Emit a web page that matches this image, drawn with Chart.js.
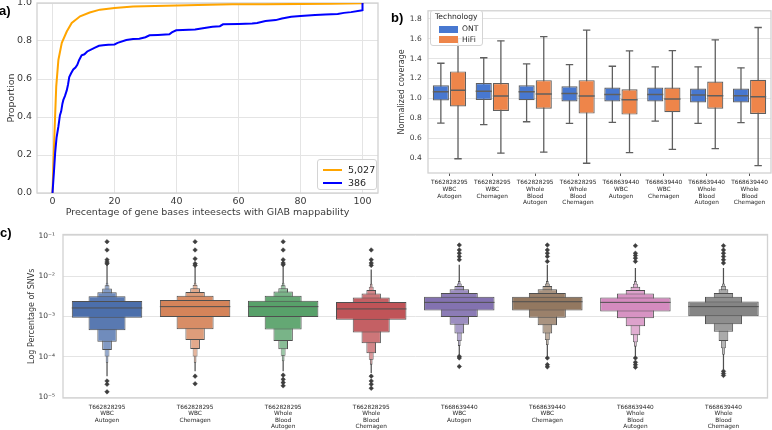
<!DOCTYPE html>
<html><head><meta charset="utf-8">
<script src="https://cdn.jsdelivr.net/npm/chart.js@4.4.1/dist/chart.umd.min.js"></script>
<style>
html,body{margin:0;padding:0;background:#fff;}
body{width:772px;height:430px;overflow:hidden;position:relative;font-family:"DejaVu Sans",sans-serif;}
.wrap{position:absolute;}
.plab{position:absolute;font-family:"Liberation Sans",sans-serif;font-weight:bold;font-size:13px;color:#000;line-height:1;}
.leg{position:absolute;background:rgba(255,255,255,0.85);border:1px solid #d4d4d4;border-radius:3px;box-sizing:border-box;color:#262626;}
.leg .row{position:absolute;left:0;right:0;}
</style></head><body>
<div class="wrap" style="left:0;top:-12px;width:382px;height:235px"><canvas id="ca"></canvas></div>
<div class="wrap" style="left:380px;top:0;width:392px;height:230px"><canvas id="cb"></canvas></div>
<div class="wrap" style="left:0;top:222px;width:772px;height:208px"><canvas id="cc"></canvas></div>
<div class="plab" style="left:-1px;top:4px">a)</div>
<div class="plab" style="left:391px;top:11px">b)</div>
<div class="plab" style="left:0px;top:226px">c)</div>
<div class="leg" id="legA" style="left:317px;top:159px;width:60px;height:31px"></div>
<div class="leg" id="legB" style="left:430px;top:10px;width:53px;height:36px"></div>
<script>
// ---------------- Panel a: cumulative proportions ----------------
const aSeriesLabels = ['5,027', '386'];
const aSeriesColors = ['#ffa500', '#0000ff'];
const cdf5027X = [0, 0.3, 0.64, 1.2, 1.9, 3.0, 4.6, 6.2, 8.9, 12, 15.3, 20, 26, 36.6, 47, 58, 68.7, 80, 90, 100, 100];
const cdf5027Y = [0, 0.16, 0.316, 0.56, 0.70, 0.79, 0.85, 0.895, 0.93, 0.95, 0.965, 0.974, 0.982, 0.986, 0.99, 0.993, 0.994, 0.995, 0.996, 0.998, 1.0];
const cdf386X = [0, 0.5, 0.85, 1.3, 1.9, 2.4, 2.8, 3.2, 3.5, 4.0, 4.6, 5.0, 5.4, 6.0, 6.7, 7.4, 8.0, 8.6, 9.4, 10.3, 11.2, 12.4, 13.7, 15, 16.3, 18, 20, 21, 23.8, 26, 28, 30, 31.3, 34, 37.7, 38.5, 39.9, 42, 46, 48, 51.6, 54, 55, 60, 64.4, 66, 68.7, 72, 74, 77, 80, 84.7, 88, 92, 94, 96.3, 99.5, 100, 100];
const cdf386Y = [0, 0.12, 0.21, 0.29, 0.35, 0.41, 0.43, 0.47, 0.49, 0.51, 0.54, 0.57, 0.61, 0.63, 0.65, 0.66, 0.675, 0.70, 0.725, 0.73, 0.745, 0.755, 0.765, 0.775, 0.778, 0.78, 0.782, 0.79, 0.805, 0.81, 0.812, 0.82, 0.83, 0.832, 0.835, 0.845, 0.856, 0.858, 0.86, 0.866, 0.875, 0.878, 0.888, 0.89, 0.892, 0.895, 0.905, 0.91, 0.918, 0.928, 0.932, 0.937, 0.94, 0.942, 0.948, 0.952, 0.96, 0.962, 1.0];
const aXTicks = [0, 20, 40, 60, 80, 100];
const aYTicks = [0, 0.2, 0.4, 0.6, 0.8, 1.0];

// ---------------- Panel b: normalized coverage boxplots ----------------
const sampleLabels = [
  ['T662828295', 'WBC', 'Autogen'],
  ['T662828295', 'WBC', 'Chemagen'],
  ['T662828295', 'Whole', 'Blood', 'Autogen'],
  ['T662828295', 'Whole', 'Blood', 'Chemagen'],
  ['T668639440', 'WBC', 'Autogen'],
  ['T668639440', 'WBC', 'Chemagen'],
  ['T668639440', 'Whole', 'Blood', 'Autogen'],
  ['T668639440', 'Whole', 'Blood', 'Chemagen']
];
const bSeriesLabels = ['ONT', 'HiFi'];
const bSeriesColors = ['#4878d0', '#ee854a'];
const ontLow  = [0.752, 0.736, 0.765, 0.749, 0.759, 0.772, 0.749, 0.756];
const ontQ1   = [0.978, 0.984, 0.981, 0.968, 0.968, 0.968, 0.958, 0.958];
const ontMed  = [1.066, 1.072, 1.066, 1.049, 1.040, 1.040, 1.033, 1.026];
const ontQ3   = [1.131, 1.154, 1.131, 1.121, 1.108, 1.108, 1.098, 1.098];
const ontHigh = [1.353, 1.408, 1.346, 1.340, 1.323, 1.317, 1.317, 1.307];
const hifiLow  = [0.393, 0.449, 0.459, 0.348, 0.455, 0.488, 0.495, 0.325];
const hifiQ1   = [0.919, 0.873, 0.896, 0.847, 0.837, 0.860, 0.896, 0.844];
const hifiMed  = [1.082, 1.023, 1.043, 1.023, 0.987, 0.994, 1.026, 1.017];
const hifiQ3   = [1.271, 1.154, 1.183, 1.183, 1.092, 1.108, 1.170, 1.186];
const hifiHigh = [1.600, 1.578, 1.621, 1.686, 1.477, 1.480, 1.588, 1.712];
const bYTicks = [0.4, 0.6, 0.8, 1.0, 1.2, 1.4, 1.6, 1.8];

// ---------------- Panel c: SNV letter-value (boxen) plots, log10 values ----------------
const snvColors = ['#4c6fab', '#d5845a', '#58a16a', '#c05458', '#8372b0', '#937860', '#d48bbf', '#858585'];
const snvMedianLog = [-2.789, -2.756, -2.756, -2.813, -2.650, -2.634, -2.650, -2.756];
const snvL1Log = [[-3.033, -2.618], [-3.016, -2.593], [-3.016, -2.610], [-3.081, -2.642], [-2.854, -2.512], [-2.854, -2.512], [-2.878, -2.528], [-2.992, -2.626]];
const snvL2Log = [[-3.341, -2.496], [-3.317, -2.488], [-3.325, -2.488], [-3.398, -2.528], [-3.016, -2.415], [-3.033, -2.415], [-3.041, -2.431], [-3.195, -2.512]];
const snvL3Log = [[-3.626, -2.398], [-3.585, -2.390], [-3.610, -2.382], [-3.667, -2.431], [-3.203, -2.325], [-3.220, -2.325], [-3.244, -2.341], [-3.382, -2.415]];
const snvL4Log = [[-3.829, -2.309], [-3.805, -2.301], [-3.813, -2.301], [-3.911, -2.341], [-3.423, -2.244], [-3.423, -2.244], [-3.463, -2.260], [-3.610, -2.325]];
const snvL5Log = [[-3.992, -2.228], [-3.992, -2.220], [-3.976, -2.228], [-4.073, -2.260], [-3.610, -2.179], [-3.585, -2.179], [-3.642, -2.187], [-3.789, -2.244]];
const snvL6Log = [[-4.150, -2.163], [-4.150, -2.163], [-4.110, -2.163], [-4.195, -2.187], [-3.730, -2.122], [-3.707, -2.122], [-3.748, -2.122], [-3.951, -2.179]];
const snvTailLog = [[-4.48, -1.715], [-4.36, -1.715], [-4.36, -1.715], [-4.40, -1.837], [-3.95, -1.715], [-3.99, -1.715], [-3.99, -1.797], [-4.317, -1.797]];
const snvOutliersLog = [
  [-1.146, -1.35, -1.593, -1.65, -1.69, -4.60, -4.68, -4.87],
  [-1.146, -1.35, -1.569, -1.69, -1.732, -4.48, -4.67],
  [-1.146, -1.35, -1.593, -1.675, -1.715, -4.455, -4.56, -4.64, -4.72],
  [-1.35, -1.593, -1.675, -1.732, -4.48, -4.60, -4.68, -4.78],
  [-1.228, -1.35, -1.431, -1.512, -1.593, -3.99, -4.03, -4.24],
  [-1.228, -1.35, -1.431, -1.512, -1.634, -4.03, -4.195, -4.25],
  [-1.244, -1.431, -1.488, -1.553, -1.634, -4.03, -4.138, -4.195, -4.26],
  [-1.244, -1.35, -1.431, -1.512, -1.593, -1.675, -4.36, -4.415, -4.463]
];
const cYTicks = [1e-5, 1e-4, 1e-3, 1e-2, 1e-1];
const cYTickLabels = ['10\u207b\u2075', '10\u207b\u2074', '10\u207b\u00b3', '10\u207b\u00b2', '10\u207b\u00b9'];

// ---------------- helpers ----------------
Chart.defaults.font.family = '"DejaVu Sans", sans-serif';
Chart.defaults.color = '#262626';
const pow10 = v => Math.pow(10, v);
function tint(hex, t) {
  const n = parseInt(hex.slice(1), 16);
  const f = c => Math.round(c + (255 - c) * t);
  return 'rgb(' + f(n >> 16 & 255) + ',' + f(n >> 8 & 255) + ',' + f(n & 255) + ')';
}
const framePlugin = {
  id: 'frame',
  beforeDatasetsDraw(chart) {
    const {ctx, chartArea: a} = chart;
    ctx.save();
    ctx.strokeStyle = '#d2d2d2';
    ctx.lineWidth = 1.3;
    ctx.strokeRect(a.left, a.top, a.right - a.left, a.bottom - a.top);
    ctx.restore();
  }
};
const base = {animation: false, responsive: true, maintainAspectRatio: false, events: [],
  plugins: {legend: {display: false}, tooltip: {enabled: false}}};
const hiddenIndexAxis = () => ({type: 'linear', display: false, offset: false, min: -0.5, max: 7.5,
  grid: {offset: false}, ticks: {stepSize: 1}});

// ---------------- Panel a chart ----------------
new Chart(document.getElementById('ca'), {
  type: 'scatter',
  data: {datasets: [
    {label: aSeriesLabels[0], data: cdf5027X.map((x, i) => ({x, y: cdf5027Y[i]})), showLine: true,
     borderColor: aSeriesColors[0], borderWidth: 2, pointRadius: 0, order: 2},
    {label: aSeriesLabels[1], data: cdf386X.map((x, i) => ({x, y: cdf386Y[i]})), showLine: true,
     borderColor: aSeriesColors[1], borderWidth: 2, pointRadius: 0, order: 1}
  ]},
  options: Object.assign({}, base, {
    layout: {padding: {left: 0, right: 4, top: 15, bottom: 0}},
    scales: {
      x: {type: 'linear', min: -5, max: 105,
        afterBuildTicks: s => { s.ticks = aXTicks.map(v => ({value: v})); },
        grid: {color: '#e4e4e4', drawTicks: false}, border: {display: false},
        ticks: {padding: 3, color: '#3a3a3a', font: {size: 9.5}, callback: v => String(v)},
        title: {display: true, text: 'Precentage of gene bases inteesects with GIAB mappability', color: '#3a3a3a',
          font: {size: 9.5}, padding: {top: 0, bottom: 5}},
        afterFit: s => { s.height = 30; }},
      y: {type: 'linear', min: 0, max: 1.0,
        afterBuildTicks: s => { s.ticks = aYTicks.map(v => ({value: v})); },
        grid: {color: '#e4e4e4', drawTicks: false}, border: {display: false},
        ticks: {padding: 5, color: '#3a3a3a', font: {size: 9.5}, callback: v => v.toFixed(1)},
        title: {display: true, text: 'Proportion', color: '#3a3a3a', font: {size: 9.5}, padding: {top: 6, bottom: 0}},
        afterFit: s => { s.width = 37; }}
    }
  }),
  plugins: [framePlugin]
});

// ---------------- Panel b chart ----------------
const bEdge = '#5f5f5f';
const DODGE = 0.2;
const boxWidthPx = ctx => ctx.chart.scales.xl.width / sampleLabels.length * 0.4 * 0.94;
function boxSets(name, color, lo, q1, med, q3, hi, off) {
  return [
    {type: 'bar', label: name, xAxisID: 'xl', grouped: false,
     data: q1.map((v, i) => ({x: i + off, y: [v, q3[i]]})), backgroundColor: color,
     borderColor: bEdge, borderWidth: 1.2, borderSkipped: false, barPercentage: 0.94, categoryPercentage: 1, order: 3},
    {type: 'line', label: name + ' whisker', xAxisID: 'xl', showLine: true, spanGaps: false,
     data: lo.flatMap((v, i) => [{x: i + off, y: v}, {x: i + off, y: hi[i]}, {x: i + off, y: null}]),
     borderColor: bEdge, borderWidth: 1.3, pointRadius: 0, order: 6},
    {type: 'line', label: name + ' caps', xAxisID: 'xl', showLine: false,
     data: lo.flatMap((v, i) => [{x: i + off, y: v}, {x: i + off, y: hi[i]}]),
     pointStyle: 'line', pointRadius: ctx => boxWidthPx(ctx) * 0.23, pointBorderColor: bEdge, pointBorderWidth: 1.3, order: 4},
    {type: 'line', label: name + ' median', xAxisID: 'xl', showLine: false,
     data: med.map((v, i) => ({x: i + off, y: v})),
     pointStyle: 'line', pointRadius: ctx => boxWidthPx(ctx) / 2, pointBorderColor: bEdge, pointBorderWidth: 1.5, order: 1}
  ];
}
new Chart(document.getElementById('cb'), {
  type: 'bar',
  data: {labels: sampleLabels, datasets: [
    ...boxSets(bSeriesLabels[0], bSeriesColors[0], ontLow, ontQ1, ontMed, ontQ3, ontHigh, -DODGE),
    ...boxSets(bSeriesLabels[1], bSeriesColors[1], hifiLow, hifiQ1, hifiMed, hifiQ3, hifiHigh, DODGE)
  ]},
  options: Object.assign({}, base, {
    layout: {padding: {left: 0, right: 1, top: 7, bottom: 0}},
    scales: {
      x: {type: 'category', offset: true,
        grid: {display: true, drawOnChartArea: false, drawTicks: true, tickLength: 3, color: '#555', offset: false},
        border: {display: false},
        ticks: {padding: 3.4, autoSkip: false, maxRotation: 0, color: '#262626', font: {size: 5.8, lineHeight: 1.15}},
        afterFit: s => { s.height = 57; }},
      xl: hiddenIndexAxis(),
      y: {min: 0.25, max: 1.88,
        afterBuildTicks: s => { s.ticks = bYTicks.map(v => ({value: v})); },
        grid: {color: '#e4e4e4', drawTicks: false}, border: {display: false},
        ticks: {padding: 6.3, color: '#3a3a3a', font: {size: 7.5}, callback: v => v.toFixed(1)},
        title: {display: true, text: 'Normalized coverage', color: '#3a3a3a', font: {size: 8}, padding: {top: 17, bottom: 0}},
        afterFit: s => { s.width = 48; }}
    }
  }),
  plugins: [framePlugin]
});

// ---------------- Panel c chart ----------------
const cEdge = '#4f4f4f';
const levelSets = [snvL1Log, snvL2Log, snvL3Log, snvL4Log, snvL5Log, snvL6Log];
const levelWidth = [0.8, 0.42, 0.22, 0.11, 0.055, 0.03];
const levelTint = [0, 0.07, 0.2, 0.3, 0.4, 0.5];
const cDatasets = levelSets.map((lv, k) => ({
  type: 'bar', label: 'level ' + (k + 1), data: lv.map(p => [pow10(p[0]), pow10(p[1])]),
  backgroundColor: snvColors.map(c => tint(c, levelTint[k])), borderColor: cEdge, borderWidth: k < 4 ? 1 : 0.8,
  borderSkipped: false, grouped: false, barPercentage: levelWidth[k], categoryPercentage: 1, order: k + 2
}));
cDatasets.push({type: 'bar', label: 'tail', data: snvTailLog.map(p => [pow10(p[0]), pow10(p[1])]),
  backgroundColor: cEdge, borderWidth: 0, grouped: false, barPercentage: 0.014, categoryPercentage: 1, order: 12});
cDatasets.push({type: 'line', label: 'median', xAxisID: 'xl', showLine: false,
  data: snvMedianLog.map((m, i) => ({x: i, y: pow10(m)})), pointStyle: 'line',
  pointRadius: ctx => ctx.chart.scales.x.width / sampleLabels.length * 0.4, pointBorderColor: cEdge, pointBorderWidth: 1, order: 1});
cDatasets.push({type: 'line', label: 'outliers', xAxisID: 'xl', showLine: false,
  data: snvOutliersLog.flatMap((arr, i) => arr.map(v => ({x: i, y: pow10(v)}))), pointStyle: 'rectRot',
  pointRadius: 2.3, pointBackgroundColor: '#3d3d3d', pointBorderColor: '#3d3d3d', pointBorderWidth: 0.5, order: 0});
new Chart(document.getElementById('cc'), {
  type: 'bar',
  data: {labels: sampleLabels, datasets: cDatasets},
  options: Object.assign({}, base, {
    layout: {padding: {left: 0, right: 1, top: 9, bottom: 0}},
    scales: {
      x: {grid: {display: false, drawTicks: false}, border: {display: false},
        ticks: {padding: 6, autoSkip: false, maxRotation: 0, color: '#262626', font: {size: 5.8, lineHeight: 1.13}},
        afterFit: s => { s.height = 32; }},
      xl: hiddenIndexAxis(),
      y: {type: 'logarithmic', min: 9.5e-6, max: 0.108,
        afterBuildTicks: s => { s.ticks = cYTicks.map(v => ({value: v})); },
        grid: {color: '#e4e4e4', drawTicks: false}, border: {display: false},
        ticks: {padding: 8, color: '#3a3a3a', font: {size: 7.5}, callback: (v, i) => cYTickLabels[i]},
        title: {display: true, text: 'Log Percentage of SNVs', color: '#3a3a3a', font: {size: 8}, padding: {top: 27, bottom: 0}},
        afterFit: s => { s.width = 63; }}
    }
  }),
  plugins: [framePlugin]
});

// ---------------- HTML legends ----------------
(function () {
  const la = document.getElementById('legA');
  aSeriesLabels.forEach((t, i) => {
    const r = document.createElement('div');
    r.className = 'row';
    r.style.top = (4 + i * 13) + 'px';
    r.style.height = '12px';
    r.innerHTML = '<span style="position:absolute;left:5px;top:5px;width:19px;height:2px;background:' + aSeriesColors[i] +
      '"></span><span style="position:absolute;left:30px;top:0;font-size:9.5px;line-height:12px">' + t + '</span>';
    la.appendChild(r);
  });
  const lb = document.getElementById('legB');
  const title = document.createElement('div');
  title.textContent = 'Technology';
  title.style.cssText = 'position:absolute;left:4px;top:1px;font-size:7.6px;line-height:10px';
  lb.appendChild(title);
  bSeriesLabels.forEach((t, i) => {
    const r = document.createElement('div');
    r.className = 'row';
    r.style.top = (13 + i * 10.5) + 'px';
    r.style.height = '10px';
    r.innerHTML = '<span style="position:absolute;left:8px;top:1.5px;width:19px;height:7px;background:' + bSeriesColors[i] +
      '"></span><span style="position:absolute;left:31px;top:0;font-size:7.6px;line-height:10px">' + t + '</span>';
    lb.appendChild(r);
  });
})();
</script>
</body></html>
